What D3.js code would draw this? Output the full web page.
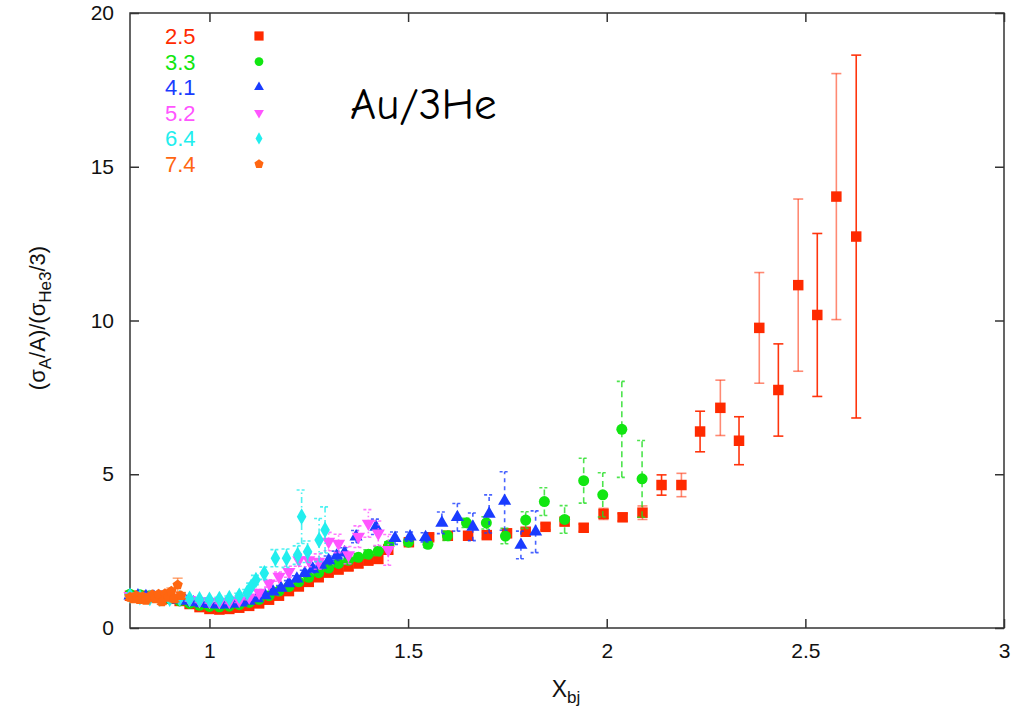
<!DOCTYPE html>
<html><head><meta charset="utf-8">
<script src="https://cdn.jsdelivr.net/npm/d3@7"></script>
<style>
body{margin:0;background:#fff;}
text{font-family:"Liberation Sans",Arial,Helvetica,sans-serif;}
</style></head>
<body><svg id="c" width="1013" height="712"></svg>
<script>
// ---- data ----
const seriesNames = ["2.5","3.3","4.1","5.2","6.4","7.4"];
const xTicks = [1, 1.5, 2, 2.5, 3];
const yTicks = [0, 5, 10, 15, 20];

const x25 = [0.800,0.825,0.850,0.875,0.900,0.925,0.950,0.975,1.000,1.025,1.050,1.075,1.100,1.125,1.150,1.175,1.200,1.225,1.250,1.275,1.300,1.325,1.350,1.375,1.400,1.425,1.450,
             1.502,1.553,1.600,1.651,1.698,1.749,1.796,1.846,1.894,1.942,1.992,2.040,2.090,2.138,2.188,2.235,2.286,2.333,2.384,2.432,2.482,2.530,2.578,2.628];
const y25 = [1.05,1.05,1.04,1.00,0.95,0.88,0.78,0.68,0.62,0.60,0.62,0.66,0.72,0.80,0.92,1.05,1.20,1.35,1.50,1.65,1.80,1.90,2.00,2.10,2.20,2.25,2.55,
             2.79,2.95,3.00,3.00,3.02,3.08,3.13,3.29,3.46,3.26,3.71,3.60,3.75,4.65,4.65,6.39,7.16,6.09,9.76,7.74,11.15,10.18,14.03,12.73];
const e25 = [0.05,0.05,0.05,0.05,0.05,0.05,0.05,0.05,0.05,0.05,0.05,0.05,0.05,0.05,0.05,0.06,0.06,0.07,0.07,0.08,0.08,0.10,0.12,0.14,0.15,0.15,0.15,
             0.10,0.10,0.10,0.10,0.10,0.10,0.10,0.10,0.12,0.12,0.18,0.12,0.22,0.33,0.38,0.66,0.90,0.78,1.80,1.50,2.80,2.65,4.00,5.90];

const x33 = [0.800,0.825,0.850,0.875,0.900,0.925,0.950,0.975,1.000,1.025,1.050,1.075,1.100,1.125,1.150,1.175,1.200,1.225,1.250,1.275,1.300,1.325,1.350,1.375,1.400,1.425,
             1.452,1.501,1.550,1.599,1.647,1.697,1.745,1.796,1.843,1.894,1.942,1.990,2.038,2.089];
const y33 = [1.10,1.08,1.05,1.00,0.95,0.88,0.80,0.74,0.70,0.69,0.71,0.76,0.83,0.93,1.05,1.20,1.35,1.50,1.65,1.80,1.95,2.10,2.20,2.30,2.40,2.50,
             2.70,2.79,2.72,3.00,3.42,3.42,2.99,3.51,4.11,3.53,4.79,4.33,6.46,4.85];
const e33 = [0.05,0.05,0.05,0.05,0.05,0.05,0.05,0.05,0.05,0.05,0.05,0.05,0.05,0.06,0.06,0.07,0.07,0.08,0.08,0.09,0.10,0.10,0.12,0.12,0.14,0.15,
             0.10,0.10,0.10,0.15,0.15,0.20,0.25,0.27,0.45,0.45,0.73,0.72,1.56,1.25];

const x41 = [0.80,0.82,0.84,0.86,0.88,0.90,0.92,0.94,0.96,0.98,1.00,1.02,1.04,1.06,1.08,1.10,1.12,1.14,1.16,1.18,1.20,1.22,1.24,1.26,1.28,1.30,1.32,1.34,
             1.369,1.419,1.467,1.505,1.544,1.585,1.624,1.663,1.704,1.743,1.784,1.821];
const y41 = [1.05,1.05,1.03,1.01,0.99,0.96,0.92,0.88,0.83,0.80,0.77,0.76,0.76,0.78,0.82,0.88,0.96,1.06,1.18,1.30,1.45,1.60,1.78,1.92,2.05,2.20,2.35,2.45,
             2.97,3.29,2.92,2.97,2.95,3.42,3.60,3.29,3.71,4.13,2.70,3.13];
const e41 = [0.05,0.05,0.05,0.05,0.05,0.05,0.05,0.05,0.05,0.05,0.05,0.05,0.05,0.05,0.06,0.06,0.07,0.07,0.08,0.08,0.09,0.10,0.10,0.12,0.12,0.14,0.15,0.16,
             0.20,0.25,0.20,0.15,0.15,0.35,0.45,0.45,0.62,0.95,0.45,0.68];

const x52 = [0.800,0.825,0.850,0.875,0.900,0.925,0.950,0.975,1.000,1.025,1.050,1.075,1.100,1.125,1.150,1.175,1.200,1.225,1.250,1.275,1.300,1.325,1.350,1.375,1.400,1.425,1.450];
const y52 = [1.05,1.02,1.00,0.98,0.97,0.95,0.92,0.88,0.86,0.85,0.86,0.90,1.00,1.15,1.45,1.67,1.83,2.21,2.21,2.16,2.81,2.75,2.37,2.97,3.40,3.08,2.54];
const e52 = [0.05,0.05,0.05,0.05,0.05,0.05,0.05,0.05,0.05,0.05,0.06,0.07,0.08,0.10,0.12,0.15,0.18,0.20,0.22,0.25,0.30,0.30,0.28,0.35,0.45,0.40,0.50];

const x64 = [0.800,0.825,0.850,0.875,0.900,0.925,0.950,0.975,1.000,1.025,1.050,1.075,1.095,1.105,1.117,1.138,1.166,1.194,1.222,1.232,1.247,1.276,1.291];
const y64 = [1.05,1.00,0.98,0.95,0.95,0.97,0.95,0.93,0.92,0.94,0.97,1.05,1.15,1.34,1.56,1.78,2.27,2.27,2.37,3.62,2.48,2.86,3.19];
const e64 = [0.05,0.05,0.05,0.05,0.05,0.05,0.05,0.05,0.06,0.06,0.07,0.08,0.10,0.12,0.15,0.20,0.28,0.30,0.30,0.87,0.35,0.70,0.75];

const x74 = [0.800,0.808,0.816,0.824,0.832,0.840,0.848,0.856,0.864,0.872,0.880,0.888,0.896,0.904,0.912,0.920,0.928];
const y74 = [1.00,0.95,1.05,0.92,1.02,0.90,1.00,1.08,0.95,1.10,0.85,1.12,1.00,1.20,0.95,1.40,1.05];
const e74 = [0.08,0.08,0.08,0.08,0.08,0.08,0.08,0.08,0.08,0.08,0.08,0.08,0.08,0.10,0.10,0.22,0.10];

// ---- layout / style ----
const m = {left:130, right:1004, top:13, bottom:628};
const svg = d3.select("#c");
const xs = d3.scaleLinear().domain([0.8, 3]).range([m.left, m.right]);
const ys = d3.scaleLinear().domain([0, 20]).range([m.bottom, m.top]);

const pentagon = {draw(ctx, size){
  const r = Math.sqrt(size/2.378);
  for(let i=0;i<5;i++){const a=-Math.PI/2+i*2*Math.PI/5;const px=r*Math.cos(a),py=r*Math.sin(a);i?ctx.lineTo(px,py):ctx.moveTo(px,py);}
  ctx.closePath();}};

const styles = [
  {name:seriesNames[0], xs:x25, ys:y25, es:e25, color:"#ff2a00", barColor:"#ff2a00", dash:null, sym:d3.symbolSquare, size:110, rot:0, lsize:85},
  {name:seriesNames[1], xs:x33, ys:y33, es:e33, color:"#11e611", barColor:"#22dd22", dash:"6,4", sym:d3.symbolCircle, size:95, rot:0, lsize:60},
  {name:seriesNames[2], xs:x41, ys:y41, es:e41, color:"#1a3cff", barColor:"#1a3cff", dash:"4,4", sym:d3.symbolTriangle, size:75, rot:0, lsize:42},
  {name:seriesNames[3], xs:x52, ys:y52, es:e52, color:"#ff55ff", barColor:"#ff55ff", dash:"1.5,2.5", sym:d3.symbolTriangle, size:75, rot:180, lsize:42},
  {name:seriesNames[4], xs:x64, ys:y64, es:e64, color:"#22eeee", barColor:"#22eeee", dash:"6,3,1.5,3", sym:d3.symbolDiamond, size:80, rot:0, lsize:42},
  {name:seriesNames[5], xs:x74, ys:y74, es:e74, color:"#ff6611", barColor:"#ff6611", dash:null, sym:pentagon, size:70, rot:0, lsize:55}
];

// frame
svg.append("rect").attr("x",m.left).attr("y",m.top).attr("width",m.right-m.left).attr("height",m.bottom-m.top)
  .attr("fill","none").attr("stroke","#333").attr("stroke-width",1.5);

// axes (ticks inward)
const tl = 9;
const gxb = svg.append("g").attr("transform",`translate(0,${m.bottom})`)
  .call(d3.axisBottom(xs).tickValues(xTicks).tickSize(-tl).tickPadding(15).tickFormat(d3.format("")));
const gxt = svg.append("g").attr("transform",`translate(0,${m.top})`)
  .call(d3.axisTop(xs).tickValues(xTicks).tickSize(-tl).tickFormat(""));
const gyl = svg.append("g").attr("transform",`translate(${m.left},0)`)
  .call(d3.axisLeft(ys).tickValues(yTicks).tickSize(-tl).tickPadding(16).tickFormat(d3.format("")));
const gyr = svg.append("g").attr("transform",`translate(${m.right},0)`)
  .call(d3.axisRight(ys).tickValues(yTicks).tickSize(-tl).tickFormat(""));
[gxb,gxt,gyl,gyr].forEach(g=>{g.select(".domain").remove();g.selectAll("line").attr("stroke","#333").attr("stroke-width",1.5);
  g.selectAll("text").attr("font-size",21).attr("fill","#111").style("font-family","'Liberation Sans',Arial,sans-serif");});

// axis titles
const xl = svg.append("text").attr("x",566).attr("y",697).attr("text-anchor","middle").attr("font-size",23).attr("fill","#111");
xl.append("tspan").text("X");
xl.append("tspan").attr("font-size",17).attr("dy",6).text("bj");

const yl = svg.append("text").attr("transform","translate(45,318) rotate(-90)").attr("text-anchor","middle").attr("font-size",22).attr("fill","#111");
yl.append("tspan").text("(σ");
yl.append("tspan").attr("font-size",17).attr("dy",6).text("A");
yl.append("tspan").attr("dy",-6).text("/A)/(σ");
yl.append("tspan").attr("font-size",17).attr("dy",6).text("He3");
yl.append("tspan").attr("dy",-6).text("/3)");

// data
const plot = svg.append("g");
styles.forEach(s=>{
  const g = plot.append("g");
  const pts = s.xs.map((xv,i)=>({x:xv, y:s.ys[i], e:s.es[i], i}));
  const bars = g.selectAll(".eb").data(pts).enter().append("g")
    .attr("stroke",s.barColor).attr("stroke-width",1.6)
    .attr("stroke-opacity",d=> s.dash===null ? (d.i%2? 0.55:0.95) : 0.8)
    .attr("fill","none");
  bars.append("line").attr("x1",d=>xs(d.x)).attr("x2",d=>xs(d.x)).attr("y1",d=>ys(d.y-d.e)).attr("y2",d=>ys(d.y+d.e))
    .attr("stroke-dasharray",s.dash);
  bars.append("line").attr("x1",d=>xs(d.x)-5).attr("x2",d=>xs(d.x)+5).attr("y1",d=>ys(d.y+d.e)).attr("y2",d=>ys(d.y+d.e))
    .attr("stroke-dasharray",s.dash?"3,2":null);
  bars.append("line").attr("x1",d=>xs(d.x)-5).attr("x2",d=>xs(d.x)+5).attr("y1",d=>ys(d.y-d.e)).attr("y2",d=>ys(d.y-d.e))
    .attr("stroke-dasharray",s.dash?"3,2":null);
  g.selectAll(".pt").data(pts).enter().append("path")
    .attr("d",d3.symbol().type(s.sym).size(s.size))
    .attr("transform",d=>`translate(${xs(d.x)},${ys(d.y)}) rotate(${s.rot})`)
    .attr("fill",s.color);
});

// legend
const lg = svg.append("g");
styles.forEach((s,i)=>{
  const yy = 36 + i*25.6;
  lg.append("text").attr("x",165).attr("y",yy+8).attr("font-size",22).attr("fill",s.color).text(s.name);
  lg.append("path").attr("d",d3.symbol().type(s.sym).size(s.lsize))
    .attr("transform",`translate(259,${yy}) rotate(${s.rot})`).attr("fill",s.color);
});

// annotation
svg.append("text").attr("x",350).attr("y",119).attr("font-size",45).attr("fill","#000")
  .style("font-family","'Comic Sans MS','Comic Neue','Noto Sans',sans-serif").text("Au/3He");
</script></body></html>
